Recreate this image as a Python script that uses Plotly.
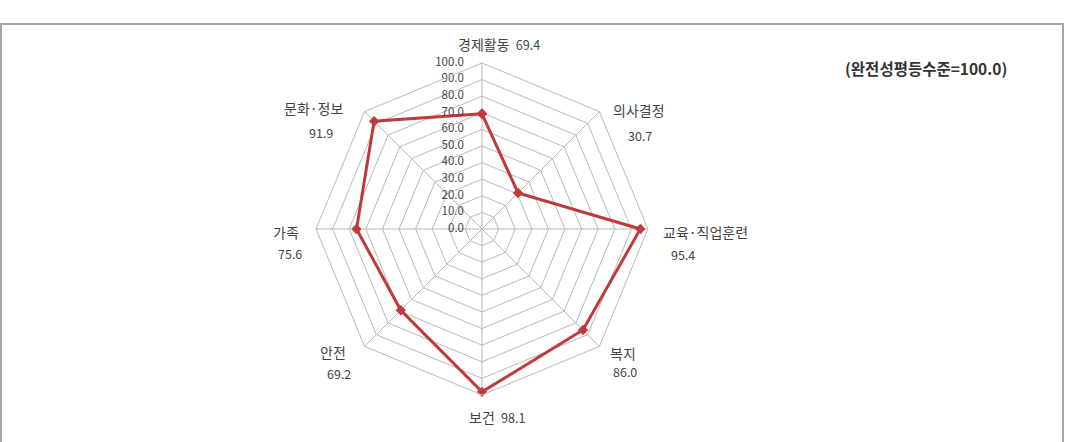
import plotly.graph_objects as go

categories = ["경제활동", "의사결정", "교육·직업훈련", "복지", "보건", "안전", "가족", "문화·정보"]
values = [69.4, 30.7, 95.4, 86.0, 98.1, 69.2, 75.6, 91.9]
radial_ticks = [0, 10, 20, 30, 40, 50, 60, 70, 80, 90, 100]
note = "(완전성평등수준=100.0)"

W, H = 1068, 442
cx, cy, R = 482, 229, 166

# label layout (pixel positions of category name / value text centres)
label_layout = {
    "경제활동": ("inline", 499, 44),
    "의사결정": ((639, 110), (640, 135)),
    "교육·직업훈련": ((705, 232), (683, 255)),
    "복지": ((623, 353), (625, 371)),
    "보건": ("inline", 497, 417),
    "안전": ((333, 352), (339, 373)),
    "가족": ((286, 232), (290, 254)),
    "문화·정보": ((313, 108), (321, 132)),
}

def px(x):
    return x / W

def py(y):
    return (H - y) / H

fig = go.Figure()
fig.add_trace(go.Scatterpolar(
    r=values + values[:1],
    theta=categories + categories[:1],
    mode="lines+markers",
    line=dict(color="#c0393b", width=3),
    marker=dict(symbol="diamond", size=8, color="#c0393b"),
    showlegend=False,
    hoverinfo="skip",
))
# radial tick labels drawn left of the vertical axis
fig.add_trace(go.Scatterpolar(
    r=[max(t, 0.01) for t in radial_ticks],
    theta=[categories[0]] * len(radial_ticks),
    mode="text",
    text=[f"{t:.1f}" + "\u00a0" * 7 for t in radial_ticks],
    textposition="middle left",
    textfont=dict(family="Noto Sans CJK KR", size=11.5, color="#444444"),
    showlegend=False,
    hoverinfo="skip",
    cliponaxis=False,
))

annotations = []
name_font = dict(family="Noto Sans CJK KR", size=14, color="#444444")
val_font = dict(family="Noto Sans CJK KR", size=12.5, color="#444444")
common = dict(xref="paper", yref="paper", showarrow=False, xanchor="center", yanchor="middle")
for c, v in zip(categories, values):
    lay = label_layout[c]
    if lay[0] == "inline":
        annotations.append(dict(text=f"{c}  <span style='font-size:12.5px'>{v:.1f}</span>",
                                x=px(lay[1]), y=py(lay[2]), font=name_font, **common))
    else:
        (nx, ny), (vx, vy) = lay
        annotations.append(dict(text=c, x=px(nx), y=py(ny), font=name_font, **common))
        annotations.append(dict(text=f"{v:.1f}", x=px(vx), y=py(vy), font=val_font, **common))

annotations.append(dict(text=f"<b>{note}</b>", x=px(926), y=py(68),
                        font=dict(family="Noto Sans CJK KR", size=15.5, color="#333333"), **common))

fig.update_layout(
    width=W, height=H,
    margin=dict(l=0, r=0, t=0, b=0),
    paper_bgcolor="white",
    plot_bgcolor="white",
    font=dict(family="Noto Sans CJK KR", size=12, color="#444444"),
    polar=dict(
        domain=dict(x=[(cx - R) / W, (cx + R) / W], y=[(H - cy - R) / H, (H - cy + R) / H]),
        bgcolor="white",
        gridshape="linear",
        radialaxis=dict(
            range=[0, 100],
            tickvals=radial_ticks,
            angle=90,
            showline=False,
            showticklabels=False,
            gridcolor="#b9b9b9",
            gridwidth=1,
            ticks="",
        ),
        angularaxis=dict(
            direction="clockwise",
            rotation=90,
            categoryorder="array",
            categoryarray=categories,
            showline=True,
            showticklabels=False,
            linecolor="#b9b9b9",
            gridcolor="#b9b9b9",
            ticks="",
        ),
    ),
    shapes=[dict(type="rect", xref="paper", yref="paper",
                 x0=1 / W, x1=1063 / W, y0=-0.05, y1=(H - 24) / H,
                 line=dict(color="#a6a6a6", width=2), fillcolor="rgba(0,0,0,0)")],
    annotations=annotations,
)

fig.write_html("out.html")
